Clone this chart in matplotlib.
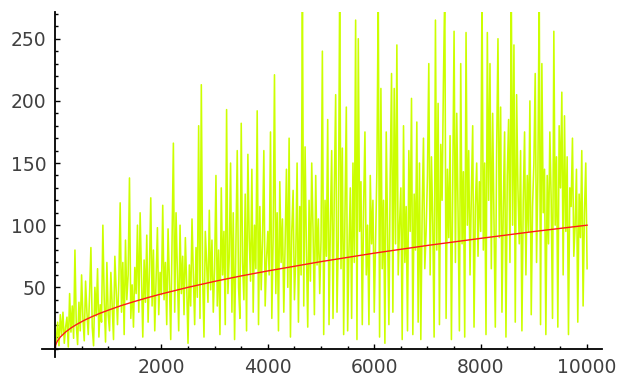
import numpy as np
import matplotlib.pyplot as plt
from matplotlib.ticker import MultipleLocator

# noisy series, one value every 25 units from 0 to 10000
step = 25
values = [0,
    8, 22, 3, 28, 12, 30, 5, 18, 26, 2, 45, 14, 35, 9, 80, 20, 4, 38, 15, 60,
    25, 7, 55, 30, 12, 44, 82, 18, 3, 50, 27, 65, 10, 36, 22, 100, 40, 6, 70, 28,
    15, 62, 35, 8, 75, 48, 20, 55, 118, 30, 70, 12, 88, 40, 60, 138, 25, 52, 18, 66,
    45, 100, 30, 110, 58, 10, 72, 38, 92, 22, 64, 122, 35, 80, 15, 56, 98, 28, 62, 44,
    116, 40, 70, 20, 97, 55, 8, 85, 166, 30, 110, 62, 15, 100, 45, 75, 28, 90, 52, 5,
    68, 35, 105, 60, 20, 82, 42, 180, 25, 213, 58, 10, 95, 70, 38, 112, 48, 88, 30, 65,
    140, 35, 80, 12, 130, 60, 95, 20, 193, 45, 75, 150, 30, 110, 8, 85, 160, 50, 25, 182,
    70, 40, 125, 15, 157, 90, 55, 145, 30, 100, 65, 192, 20, 115, 48, 88, 160, 35, 72, 95,
    60, 175, 25, 90, 221, 45, 110, 15, 135, 70, 105, 30, 85, 145, 50, 170, 10, 95, 128, 40,
    75, 150, 22, 115, 60, 290, 35, 163, 80, 18, 120, 55, 150, 95, 28, 140, 68, 105, 45, 88,
    240, 12, 120, 75, 185, 20, 100, 160, 25, 130, 205, 30, 90, 290, 65, 162, 12, 110, 195, 15,
    80, 130, 25, 150, 70, 265, 8, 250, 95, 135, 20, 115, 175, 60, 100, 20, 140, 85, 120, 30,
    90, 145, 290, 10, 210, 65, 120, 5, 175, 100, 20, 140, 222, 30, 210, 85, 245, 60, 100, 130,
    8, 180, 70, 115, 15, 160, 95, 202, 12, 125, 80, 183, 22, 150, 8, 110, 170, 65, 95, 140,
    230, 60, 155, 100, 10, 265, 80, 198, 20, 165, 120, 215, 290, 25, 145, 90, 172, 8, 130, 256,
    70, 190, 110, 15, 230, 85, 143, 10, 255, 100, 160, 60, 125, 180, 18, 115, 150, 75, 135, 95,
    290, 80, 150, 12, 255, 120, 230, 65, 190, 105, 18, 160, 250, 90, 195, 30, 115, 175, 10, 140,
    185, 70, 290, 100, 245, 22, 205, 130, 85, 160, 15, 120, 175, 60, 140, 95, 200, 28, 115, 150,
    222, 70, 140, 290, 20, 230, 110, 145, 12, 140, 85, 175, 120, 25, 256, 100, 155, 18, 180, 130,
    207, 60, 188, 95, 155, 12, 130, 115, 170, 75, 100, 145, 22, 125, 90, 160, 35, 110, 150, 65]
x_values = np.arange(len(values)) * step

# red trend curve
trend_x = [0, 10, 25, 50, 100, 200, 300, 400, 550, 700, 850, 1000, 1250, 1500, 1750, 2000,
           2500, 3000, 3500, 4000, 5000, 6000, 7000, 8000, 9000, 10000]
trend_y = [0, 3.2, 5, 7.1, 10, 14.1, 17.3, 20, 23.5, 26.5, 29.2, 31.6, 35.4, 38.7, 41.8, 44.7,
           50, 54.8, 59.2, 63.2, 70.7, 77.5, 83.7, 89.4, 94.9, 100]

fig = plt.figure(figsize=(6.21, 3.77), dpi=100)
ax = fig.add_axes([42 / 621, (377 - 356.7) / 377, 560 / 621, (356.7 - 12) / 377])

ax.plot(x_values, values, color='#ccff00', linewidth=1.15, zorder=2)
ax.plot(trend_x, trend_y, color='#ff1a1a', linewidth=1.0, zorder=3)

ax.set_xlim(-244, 10280)
ax.set_ylim(-5.8, 271.5)

# axes crossing at the origin
for side in ['top', 'right']:
    ax.spines[side].set_visible(False)
ax.spines['left'].set_position(('data', 0))
ax.spines['bottom'].set_position(('data', 0))
ax.spines['left'].set_linewidth(1.3)
ax.spines['bottom'].set_linewidth(1.3)
ax.spines['left'].set_zorder(4)
ax.spines['bottom'].set_zorder(4)

ax.xaxis.set_major_locator(MultipleLocator(2000))
ax.xaxis.set_minor_locator(MultipleLocator(500))
ax.yaxis.set_major_locator(MultipleLocator(50))
ax.yaxis.set_minor_locator(MultipleLocator(10))

ax.tick_params(which='both', direction='in', width=1.0, colors='black',
               labelcolor='#404040', labelsize=13.5)
ax.tick_params(which='major', length=3.5, pad=6)
ax.tick_params(which='minor', length=2)

ax.set_xticks([2000, 4000, 6000, 8000, 10000])
ax.set_yticks([50, 100, 150, 200, 250])

plt.savefig('out.png', dpi=100)
